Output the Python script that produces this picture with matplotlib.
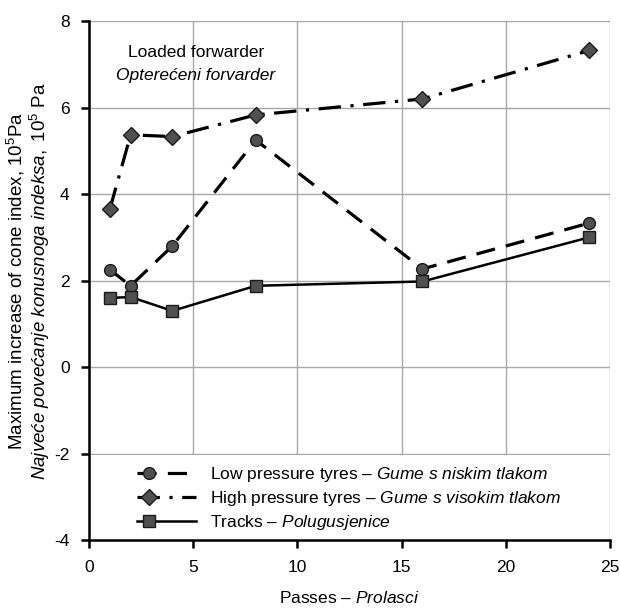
import numpy as np
import matplotlib
matplotlib.use("Agg")
import matplotlib.pyplot as plt
from matplotlib.lines import Line2D
from matplotlib.legend_handler import HandlerLine2D
from matplotlib.patches import Rectangle

# data
passes = [1, 2, 4, 8, 16, 24]
low_pressure = [2.25, 1.88, 2.8, 5.25, 2.27, 3.33]
high_pressure = [3.65, 5.37, 5.33, 5.83, 6.2, 7.32]
tracks = [1.6, 1.62, 1.3, 1.88, 1.98, 3.0]

xticks = [0, 5, 10, 15, 20, 25]
yticks = [-4, -2, 0, 2, 4, 6, 8]

fam = "Liberation Sans"
plt.rcParams['font.family'] = [fam, 'DejaVu Sans']
plt.rcParams['mathtext.fontset'] = 'custom'
plt.rcParams['mathtext.rm'] = fam
plt.rcParams['mathtext.it'] = fam + ':italic'
plt.rcParams['mathtext.bf'] = fam + ':bold'
plt.rcParams['axes.unicode_minus'] = False


class LeftMarker(HandlerLine2D):
    # line across the whole handle, marker near its left end
    def create_artists(self, legend, orig_handle, xdescent, ydescent, width, height, fontsize, trans):
        y = (height - ydescent) / 2
        x0 = -xdescent
        line = Line2D([x0, x0 + width], [y, y])
        self.update_prop(line, orig_handle, legend)
        line.set_marker('None')
        mark = Line2D([x0 + 0.2 * width], [y])
        self.update_prop(mark, orig_handle, legend)
        mark.set_linestyle('None')
        line.set_transform(trans)
        mark.set_transform(trans)
        return [line, mark]


fig = plt.figure(figsize=(6.2, 6.11), dpi=100)
ax = fig.add_axes([0.1435, 0.116, 0.8405, 0.8495])

mk = dict(markerfacecolor='#505050', markeredgecolor='#1a1a1a', markeredgewidth=1.0, color='black', zorder=4)
ax.plot(passes, low_pressure, marker='o', markersize=8.5, linestyle=(0, (6, 3.5)), linewidth=2.3,
        label=r"Low pressure tyres – $\it{Gume\ s\ niskim\ tlakom}$", **mk)
ax.plot(passes, high_pressure, marker='D', markersize=8, linestyle=(0, (7, 3, 1, 3)), linewidth=2.3,
        label=r"High pressure tyres – $\it{Gume\ s\ visokim\ tlakom}$", **mk)
ax.plot(passes, tracks, marker='s', markersize=8.5, linestyle='-', linewidth=1.8,
        label=r"Tracks – $\it{Polugusjenice}$", **mk)

ax.set_xlim(0, 25)
ax.set_ylim(-4, 8)
ax.set_xticks(xticks)
ax.set_yticks(yticks)
ax.grid(True, color='#a8a8a8', linewidth=1.0)
for s in ['top', 'right']:
    ax.spines[s].set_visible(False)
for s in ['left', 'bottom']:
    ax.spines[s].set_linewidth(1.8)
ax.tick_params(direction='out', length=6, width=1.8, labelsize=12.5, pad=8)

# white block hiding the grid behind the legend
ax.add_patch(Rectangle((0, -4), 24.92, 1.97, facecolor='white', edgecolor='none', zorder=2))

ax.legend(loc='lower left', bbox_to_anchor=(0.063, -0.015), frameon=False, fontsize=12.5,
          handlelength=3.4, handletextpad=0.8, labelspacing=0.3,
          handler_map={Line2D: LeftMarker()})

ax.text(0.205, 0.94, "Loaded forwarder", transform=ax.transAxes, ha='center', va='center', fontsize=12.5)
ax.text(0.205, 0.895, "Opterećeni forvarder", transform=ax.transAxes, ha='center', va='center',
        fontsize=12.5, style='italic')

ax.set_xlabel(r"Passes – $\it{Prolasci}$", fontsize=12.5, labelpad=11)
fig.text(0.026, 0.54, r"Maximum increase of cone index, 10$^{5}$Pa", rotation=90,
         ha='center', va='center', fontsize=13.5)
fig.text(0.064, 0.54, r"$\it{Najveće\ povećanje\ konusnoga\ indeksa,}$ 10$^{5}$ Pa", rotation=90,
         ha='center', va='center', fontsize=13.5)

fig.savefig("out.png", dpi=100)
